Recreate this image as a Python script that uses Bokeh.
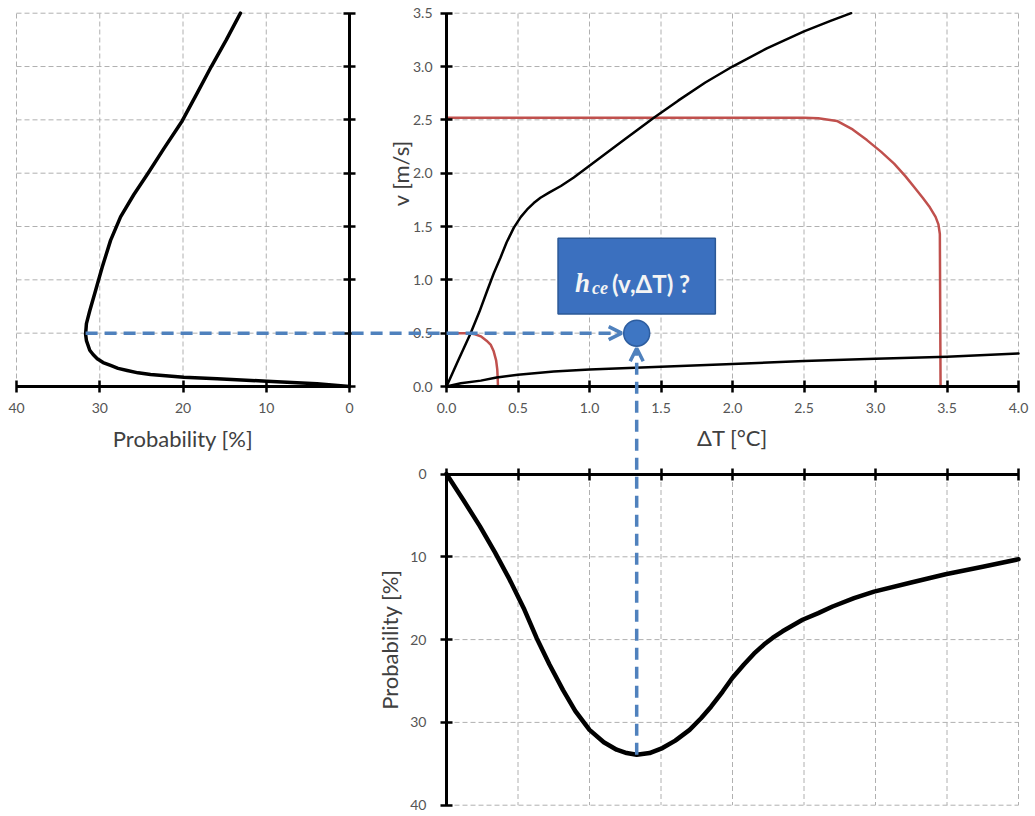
import math
from bokeh.plotting import figure
from bokeh.models import (Range1d, LinearAxis, FixedTicker, PrintfTickFormatter,
                          CustomJSTickFormatter, Arrow, OpenHead, Label)
from bokeh.embed import file_html
from bokeh.resources import INLINE

# ---------------- data ----------------
# left panel: probability [%] of velocity v [m/s]
left_prob = [0.0, 3.9, 9.9, 15.9, 19.9, 23.9, 25.4, 26.7, 27.8, 28.7, 29.6, 30.3, 30.8, 31.2,
             31.6, 31.7, 31.6, 31.2, 30.5, 29.7, 28.7, 27.5, 25.9, 24.2, 22.3, 20.1, 18.3,
             16.6, 14.8, 13.1]
left_v = [0.0, 0.025, 0.05, 0.072, 0.087, 0.112, 0.128, 0.15, 0.17, 0.197, 0.225, 0.26, 0.30,
          0.34, 0.43, 0.49, 0.59, 0.71, 0.90, 1.12, 1.37, 1.59, 1.80, 2.00, 2.23, 2.49, 2.75,
          3.0, 3.25, 3.5]

# top-right panel: upper black curve  v(ΔT)
upper_dT = [0.0, 0.08, 0.168, 0.23, 0.285, 0.33, 0.378, 0.42, 0.471, 0.52, 0.564, 0.61,
            0.657, 0.72, 0.80, 0.89, 1.03, 1.24, 1.45, 1.62, 1.81, 2.0, 2.24, 2.5, 2.69, 2.83]
upper_v = [0.0, 0.24, 0.497, 0.70, 0.90, 1.06, 1.21, 1.35, 1.49, 1.59, 1.66, 1.72,
           1.77, 1.82, 1.88, 1.96, 2.10, 2.31, 2.52, 2.68, 2.85, 3.0, 3.17, 3.33, 3.43, 3.5]

# lower black curve  v(ΔT)
lower_dT = [0.0, 0.1, 0.24, 0.35, 0.5, 0.75, 1.0, 1.5, 2.0, 2.5, 3.0, 3.5, 4.0]
lower_v = [0.0, 0.03, 0.055, 0.085, 0.11, 0.14, 0.16, 0.185, 0.21, 0.24, 0.26, 0.28, 0.31]

# small red boundary
red_small_dT = [0.0, 0.12, 0.16, 0.2, 0.24, 0.28, 0.31, 0.33, 0.347, 0.355, 0.358, 0.36]
red_small_v = [0.5, 0.5, 0.5, 0.49, 0.47, 0.43, 0.39, 0.33, 0.245, 0.16, 0.08, 0.0]

# large red boundary
red_big_dT = [0.0, 2.5, 2.6, 2.73, 2.84, 2.94, 3.04, 3.13, 3.21, 3.27, 3.33, 3.38, 3.42,
              3.44, 3.45, 3.455]
red_big_v = [2.52, 2.52, 2.515, 2.49, 2.41, 2.31, 2.20, 2.09, 1.97, 1.87, 1.77, 1.68, 1.59,
             1.52, 1.43, 0.0]

# bottom panel: probability [%] of ΔT [°C]
bottom_dT = [0.0, 0.12, 0.233, 0.34, 0.44, 0.54, 0.63, 0.72, 0.815, 0.9, 1.0, 1.1, 1.19,
             1.26, 1.33, 1.42, 1.51, 1.6, 1.70, 1.78, 1.85, 1.93, 2.0, 2.08, 2.15, 2.22,
             2.28, 2.35, 2.42, 2.49, 2.6, 2.7, 2.85, 2.99, 3.25, 3.49, 3.75, 4.0]
bottom_prob = [0.0, 3.2, 6.3, 9.5, 12.7, 16.2, 19.8, 23.0, 26.1, 28.6, 30.9, 32.4, 33.3,
               33.7, 33.9, 33.7, 33.1, 32.2, 30.9, 29.5, 28.1, 26.3, 24.6, 23.0, 21.7, 20.6,
               19.8, 19.0, 18.3, 17.6, 16.8, 16.0, 15.0, 14.2, 13.1, 12.1, 11.2, 10.3]

# query point and its marginals
query_dT = 1.33
query_v = 0.5
query_prob_v = 31.7     # left curve at v = 0.5
query_prob_dT = 33.9    # bottom curve at ΔT = 1.33

# annotation box (ΔT, v)
box_dT = [0.78, 1.88]
box_v = [0.68, 1.39]

# ticks
dT_ticks = [0.0, 0.5, 1.0, 1.5, 2.0, 2.5, 3.0, 3.5, 4.0]
v_ticks = [0.0, 0.5, 1.0, 1.5, 2.0, 2.5, 3.0, 3.5]
prob_ticks = [0, 10, 20, 30, 40]

# ---------------- layout (pixels) ----------------
W, H = 1035, 816
DT_PX0, DT_PER = 446.0, 143.0        # x pixel of ΔT=0, px per °C
V_PY0, V_PER = 386.0, 106.66         # y pixel of v=0, px per m/s
PX_PX0, PX_PER = 349.0, 8.325        # x pixel of prob=0 (left panel), px per %
PY_PY0, PY_PER = 473.5, 8.28         # y pixel of prob=0 (bottom panel), px per %

p = figure(width=W, height=H, output_backend="svg", toolbar_location=None,
           x_axis_location=None, y_axis_location=None, min_border=0,
           x_range=Range1d(-DT_PX0 / DT_PER, (W - DT_PX0) / DT_PER),
           y_range=Range1d(-(H - V_PY0) / V_PER, V_PY0 / V_PER))
p.outline_line_color = None
p.grid.visible = False
p.background_fill_color = "white"
p.border_fill_color = "white"
p.extra_x_ranges = {"px": Range1d(PX_PX0 / PX_PER, -(W - PX_PX0) / PX_PER)}
p.extra_y_ranges = {"py": Range1d((H - PY_PY0) / PY_PER, -PY_PY0 / PY_PER)}

GRID = dict(line_color="#b0b0b0", line_width=1, line_dash="5 3")

gx = [t for t in dT_ticks if t > 0]
gy = [t for t in v_ticks if t > 0]
gp = [t for t in prob_ticks if t > 0]
# grid lines: top-right panel
p.segment(x0=gx, y0=[0] * len(gx), x1=gx, y1=[max(v_ticks)] * len(gx), **GRID)
p.segment(x0=[0] * len(gy), y0=gy, x1=[max(dT_ticks)] * len(gy), y1=gy, **GRID)
# left panel
p.segment(x0=gp, y0=[0] * len(gp), x1=gp, y1=[max(v_ticks)] * len(gp), x_range_name="px", **GRID)
p.segment(x0=[0] * len(gy), y0=gy, x1=[max(prob_ticks)] * len(gy), y1=gy, x_range_name="px", **GRID)
# bottom panel
p.segment(x0=gx, y0=[0] * len(gx), x1=gx, y1=[max(prob_ticks)] * len(gx), y_range_name="py", **GRID)
p.segment(x0=[0] * len(gp), y0=gp, x1=[max(dT_ticks)] * len(gp), y1=gp, y_range_name="py", **GRID)

# curves
RED = "#c0504d"
CURVE = dict(line_join="round", line_cap="round")
p.line(red_big_dT, red_big_v, line_color=RED, line_width=2.5, **CURVE)
p.line(red_small_dT, red_small_v, line_color=RED, line_width=2.5, **CURVE)
p.line(upper_dT, upper_v, line_color="black", line_width=2.5, **CURVE)
p.line(lower_dT, lower_v, line_color="black", line_width=2.5, **CURVE)
p.line(left_prob, left_v, line_color="black", line_width=3.5, x_range_name="px", **CURVE)
p.line(bottom_dT, bottom_prob, line_color="black", line_width=4.5, y_range_name="py", **CURVE)

# axes
TICKFONT = dict(major_label_text_font="Lato", major_label_text_font_size="14px",
                major_label_text_color="#555555")
AX = dict(axis_line_color="black", axis_line_width=3, major_tick_line_width=2.5,
          major_tick_line_color="black", major_tick_in=6, major_tick_out=6,
          minor_tick_line_color=None)
blank = CustomJSTickFormatter(code="return ''")

ax = LinearAxis(fixed_location=0, bounds=(0, 3.5), ticker=FixedTicker(ticks=v_ticks),
                formatter=PrintfTickFormatter(format="%.1f"), major_label_standoff=8,
                **TICKFONT, **AX)
p.add_layout(ax, "left")
ax = LinearAxis(fixed_location=0, bounds=(0, 4), ticker=FixedTicker(ticks=dT_ticks),
                formatter=PrintfTickFormatter(format="%.1f"), major_label_standoff=10,
                **TICKFONT, **AX)
p.add_layout(ax, "below")
ax = LinearAxis(x_range_name="px", fixed_location=0, bounds=(0, 40),
                ticker=FixedTicker(ticks=prob_ticks), major_label_standoff=10, **TICKFONT, **AX)
p.add_layout(ax, "below")
ax = LinearAxis(x_range_name="px", fixed_location=0, bounds=(0, 3.5),
                ticker=FixedTicker(ticks=v_ticks), formatter=blank, **AX)
p.add_layout(ax, "right")
ax = LinearAxis(y_range_name="py", fixed_location=0, bounds=(0, 4),
                ticker=FixedTicker(ticks=dT_ticks), formatter=blank, **AX)
p.add_layout(ax, "above")
ax = LinearAxis(y_range_name="py", fixed_location=0, bounds=(0, 40),
                ticker=FixedTicker(ticks=prob_ticks), major_label_standoff=14, **TICKFONT, **AX)
p.add_layout(ax, "left")

# axis titles
TITLE = dict(text_font="Lato", text_font_size="22px", text_color="#404040",
             text_align="center", text_baseline="middle")
p.add_layout(Label(x=2.0, y=0, y_offset=-51, text="ΔT [°C]", **TITLE))
p.add_layout(Label(x=20, y=0, y_offset=-52, x_range_name="px", text="Probability [%]", **TITLE))
p.add_layout(Label(x=0, y=2.0, x_offset=-46, angle=math.pi / 2, text="v [m/s]", **TITLE))
p.add_layout(Label(x=0, y=20, x_offset=-57, y_range_name="py", angle=math.pi / 2,
                   text="Probability [%]", **TITLE))

# annotation box (with a soft shadow)
p.quad(left=[box_dT[0]], right=[box_dT[1]], bottom=[box_v[0]], top=[box_v[1]],
       fill_color="#7f8fa6", fill_alpha=0.35, line_color=None)
p.quad(left=[box_dT[0]], right=[box_dT[1]], bottom=[box_v[0]], top=[box_v[1]],
       fill_color="#3b70bf", line_color="#2b5896", line_width=1.5)
bx, by = box_dT[0], (box_v[0] + box_v[1]) / 2
p.add_layout(Label(x=bx, y=by, x_offset=17, y_offset=-7, text="h", text_font="Liberation Serif",
                   text_font_style="bold italic", text_font_size="27px", text_color="#f4f4f4",
                   text_baseline="alphabetic"))
p.add_layout(Label(x=bx, y=by, x_offset=34, y_offset=-12, text="ce", text_font="Liberation Serif",
                   text_font_style="bold italic", text_font_size="18px", text_color="#f4f4f4",
                   text_baseline="alphabetic"))
p.add_layout(Label(x=bx, y=by, x_offset=54, y_offset=-7, text="(v,ΔT) ?", text_font="Lato",
                   text_font_style="bold", text_font_size="24px", text_color="#f4f4f4",
                   text_baseline="alphabetic"))

# connectors
BLUE = "#4f81bd"
DOT_R = 13
tip_px = DT_PX0 + query_dT * DT_PER - DOT_R - 2
tip_prob_x = (PX_PX0 - tip_px) / PX_PER
p.add_layout(Arrow(x_start=query_prob_v, y_start=query_v, x_end=tip_prob_x, y_end=query_v,
                   x_range_name="px", line_color=BLUE, line_width=3.5, line_dash="12 7",
                   end=OpenHead(size=13, line_color=BLUE, line_width=3.5)))
tip_py = V_PY0 - query_v * V_PER + DOT_R + 2
tip_prob_y = (tip_py - PY_PY0) / PY_PER
p.add_layout(Arrow(x_start=query_dT, y_start=query_prob_dT, x_end=query_dT, y_end=tip_prob_y,
                   y_range_name="py", line_color=BLUE, line_width=3.5, line_dash="12 7",
                   end=OpenHead(size=13, line_color=BLUE, line_width=3.5)))
p.scatter([query_dT], [query_v], size=2 * DOT_R, fill_color="#3e76c3",
          line_color="#2d5d9f", line_width=1.5)

open("out.html", "w").write(file_html(p, INLINE))
